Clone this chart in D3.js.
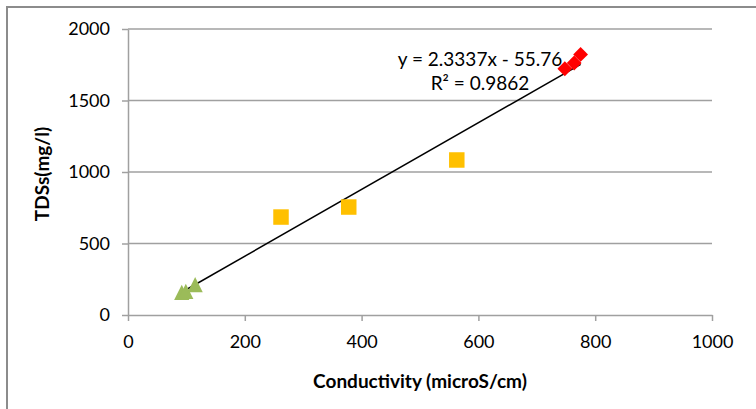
<!DOCTYPE html>
<html>
<head>
<meta charset="utf-8">
<script src="https://cdn.jsdelivr.net/npm/d3@7"></script>
<style>
  body { margin: 0; background: #fff; }
  svg { display: block; }
  text { font-family: Lato, "Open Sans", sans-serif; fill: #000; }
</style>
</head>
<body>
<div id="chart"></div>
<script>
'use strict';

var triangleX = [92, 99, 115],
    triangleY = [158, 165, 212];
var squareX = [262, 378, 563],
    squareY = [685, 755, 1084];
var diamondX = [748, 764, 775],
    diamondY = [1722, 1762, 1822];

var slope = 2.3337, intercept = -55.76, rSquared = 0.9862;

var xTicks = [0, 200, 400, 600, 800, 1000],
    yTicks = [0, 500, 1000, 1500, 2000];

var width = 756, height = 409,
    gridColor = '#a0a0a0';

var svg = d3.select('#chart').append('svg')
    .attr('width', width)
    .attr('height', height);

// outer chart frame (right and bottom edges fall off the picture)
svg.append('rect')
    .attr('x', 7).attr('y', 7)
    .attr('width', 760).attr('height', 420)
    .style('fill', 'none')
    .style('stroke', '#8c8c8c')
    .style('stroke-width', 2);

var x = d3.scaleLinear().domain([0, 1000]).range([128, 712]),
    y = d3.scaleLinear().domain([0, 2000]).range([315, 29]);

// horizontal gridlines
svg.append('g').selectAll('line')
    .data(yTicks.slice(1))
    .join('line')
    .attr('x1', x(0)).attr('x2', x(1000))
    .attr('y1', function(d) { return y(d); })
    .attr('y2', function(d) { return y(d); })
    .style('stroke', gridColor)
    .style('stroke-width', 1.5);

var xAxis = svg.append('g')
    .attr('transform', 'translate(0,' + y(0) + ')')
    .call(d3.axisBottom(x).tickValues(xTicks).tickFormat(d3.format('d'))
        .tickSize(6).tickSizeOuter(0).tickPadding(14));

var yAxis = svg.append('g')
    .attr('transform', 'translate(' + x(0) + ',0)')
    .call(d3.axisLeft(y).tickValues(yTicks).tickFormat(d3.format('d'))
        .tickSize(6).tickSizeOuter(0).tickPadding(12));

[xAxis, yAxis].forEach(function(ax) {
    ax.select('.domain').style('stroke', gridColor).style('stroke-width', 1.5);
    ax.selectAll('.tick line').style('stroke', gridColor).style('stroke-width', 1.5);
    ax.selectAll('.tick text')
        .style('font-family', 'Lato, "Open Sans", sans-serif')
        .style('font-size', '18px')
        .style('fill', '#000');
});

svg.append('text')
    .attr('x', (x(0) + x(1000)) / 2)
    .attr('y', 388)
    .attr('text-anchor', 'middle')
    .style('font-size', '19px')
    .style('font-weight', 'bold')
    .text('Conductivity (microS/cm)');

svg.append('text')
    .attr('transform', 'translate(49,174) rotate(-90)')
    .attr('text-anchor', 'middle')
    .style('font-size', '19px')
    .style('font-weight', 'bold')
    .text('TDSs(mg/l)');

// trendline over the range of the data
var allX = triangleX.concat(squareX, diamondX),
    xMin = d3.min(allX), xMax = d3.max(allX);

svg.append('line')
    .attr('x1', x(xMin)).attr('y1', y(slope * xMin + intercept))
    .attr('x2', x(xMax)).attr('y2', y(slope * xMax + intercept))
    .style('stroke', '#000')
    .style('stroke-width', 1.5);

// excel style triangle, centred on its box
var boxTriangle = {
    draw: function(context, size) {
        var r = Math.sqrt(size) / 2;
        context.moveTo(0, -r);
        context.lineTo(r, r);
        context.lineTo(-r, r);
        context.closePath();
    }
};

function markers(xs, ys, type, size, color, rotate) {
    svg.append('g').selectAll('path')
        .data(xs.map(function(d, i) { return [d, ys[i]]; }))
        .join('path')
        .attr('d', d3.symbol().type(type).size(size))
        .attr('transform', function(d) {
            return 'translate(' + x(d[0]) + ',' + y(d[1]) + ')' + (rotate ? ' rotate(45)' : '');
        })
        .style('fill', color);
}

markers(squareX, squareY, d3.symbolSquare, 240, '#ffc000', false);
markers(triangleX, triangleY, boxTriangle, 230, '#9bbb59', false);
markers(diamondX, diamondY, d3.symbolSquare, 110, '#ff0000', true);

// trendline label
var label = svg.append('g').style('font-size', '19px').attr('text-anchor', 'middle');
label.append('text')
    .attr('x', 480).attr('y', 66)
    .text('y = ' + slope + 'x - ' + Math.abs(intercept));
label.append('text')
    .attr('x', 480).attr('y', 90)
    .text('R² = ' + rSquared);
</script>
</body>
</html>
